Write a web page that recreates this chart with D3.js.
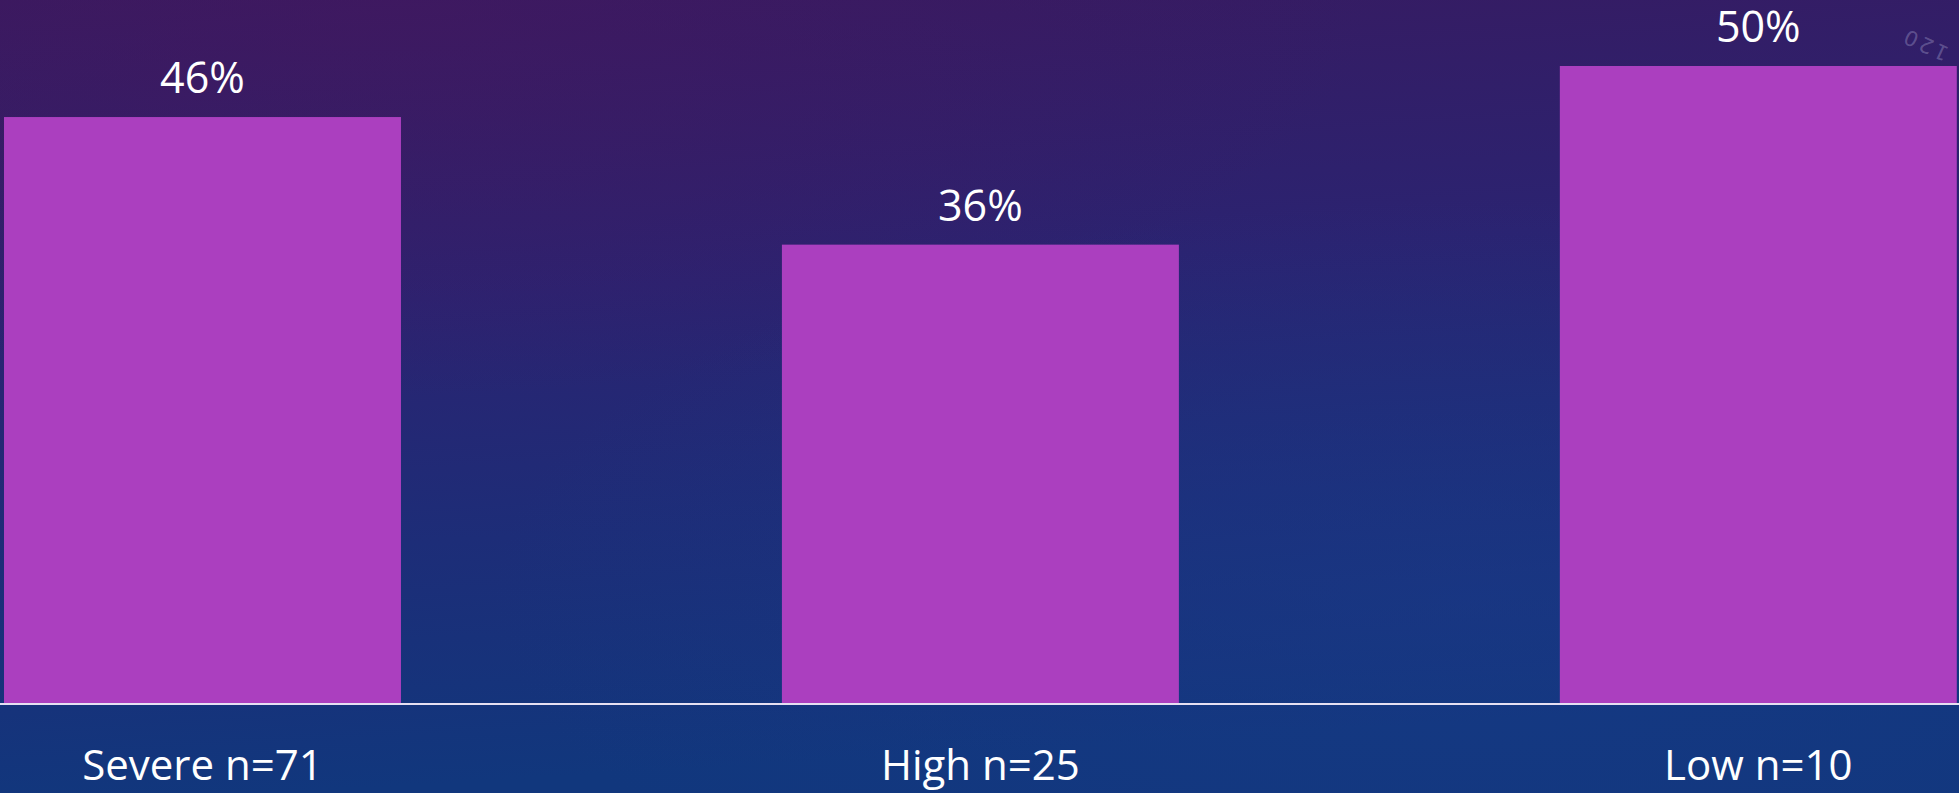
<!DOCTYPE html>
<html>
<head>
<meta charset="utf-8">
<script src="https://cdn.jsdelivr.net/npm/d3@7"></script>
<style>
  html, body { margin: 0; padding: 0; background: #1d2a72; overflow: hidden; }
  svg { display: block; }
</style>
</head>
<body>
<svg id="chart" width="1959" height="793"></svg>
<script>
const categories = ["Severe n=71", "High n=25", "Low n=10"];
const values = [46, 36, 50];
const valueLabels = ["46%", "36%", "50%"];

const W = 1959, H = 793;
const svg = d3.select("#chart");

// background
const defs = svg.append("defs");
const lg = defs.append("linearGradient").attr("id", "bg").attr("x1", 0).attr("y1", 0).attr("x2", 0.15).attr("y2", 1);
lg.append("stop").attr("offset", "0%").attr("stop-color", "#381a60");
lg.append("stop").attr("offset", "40%").attr("stop-color", "#2b2371");
lg.append("stop").attr("offset", "70%").attr("stop-color", "#1d2d78");
lg.append("stop").attr("offset", "100%").attr("stop-color", "#11377d");
svg.append("rect").attr("width", W).attr("height", H).attr("fill", "url(#bg)");

const rg = defs.append("radialGradient").attr("id", "glow1").attr("cx", 0.2).attr("cy", 0.0).attr("r", 0.5);
rg.append("stop").attr("offset", "0%").attr("stop-color", "#45175f").attr("stop-opacity", 0.5);
rg.append("stop").attr("offset", "100%").attr("stop-color", "#45175f").attr("stop-opacity", 0);
svg.append("rect").attr("width", W).attr("height", H).attr("fill", "url(#glow1)");

const rg2 = defs.append("radialGradient").attr("id", "glow2").attr("cx", 0.75).attr("cy", 0.75).attr("r", 0.5);
rg2.append("stop").attr("offset", "0%").attr("stop-color", "#1a3a8a").attr("stop-opacity", 0.5);
rg2.append("stop").attr("offset", "100%").attr("stop-color", "#1a3a8a").attr("stop-opacity", 0);
svg.append("rect").attr("width", W).attr("height", H).attr("fill", "url(#glow2)");

// decorative faint "120"
svg.append("text")
  .attr("transform", "translate(1928,38) rotate(205)")
  .attr("text-anchor", "middle")
  .attr("font-family", "'DejaVu Sans', sans-serif")
  .attr("font-size", 21)
  .attr("letter-spacing", 3)
  .attr("fill", "rgba(200,200,235,0.3)")
  .text("120");

// scales
const x = d3.scaleBand()
  .domain(categories)
  .range([4, 1956.8])
  .paddingInner(0.4897)
  .paddingOuter(0);

const baseY = 704;
const pxPerUnit = 12.76;
const yMax = 55;
const y = d3.scaleLinear().domain([0, yMax]).range([baseY, baseY - yMax * pxPerUnit]);

const font = "'Open Sans', sans-serif";

// bars
svg.append("g").selectAll("rect")
  .data(values)
  .join("rect")
  .attr("x", (d, i) => x(categories[i]))
  .attr("y", d => y(d))
  .attr("width", x.bandwidth())
  .attr("height", d => y(0) - y(d))
  .attr("fill", "#ab3fbf");

// value labels
svg.append("g").selectAll("text")
  .data(values)
  .join("text")
  .attr("x", (d, i) => x(categories[i]) + x.bandwidth() / 2)
  .attr("y", d => y(d) - 24)
  .attr("text-anchor", "middle")
  .attr("font-family", font)
  .attr("font-size", 43)
  .attr("fill", "#ffffff")
  .text((d, i) => valueLabels[i]);

// axis
const xAxis = d3.axisBottom(x).tickSize(0).tickPadding(44);
const gx = svg.append("g").attr("transform", `translate(0,${baseY})`).call(xAxis);
gx.select(".domain").remove();
svg.append("line")
  .attr("x1", 0).attr("x2", W)
  .attr("y1", baseY).attr("y2", baseY)
  .attr("stroke", "#e6e0f2").attr("stroke-width", 2);
gx.selectAll("text")
  .attr("font-family", font)
  .attr("font-size", 42)
  .attr("fill", "#ffffff")
  .attr("dy", "0")
  .attr("y", 76);
</script>
</body>
</html>
